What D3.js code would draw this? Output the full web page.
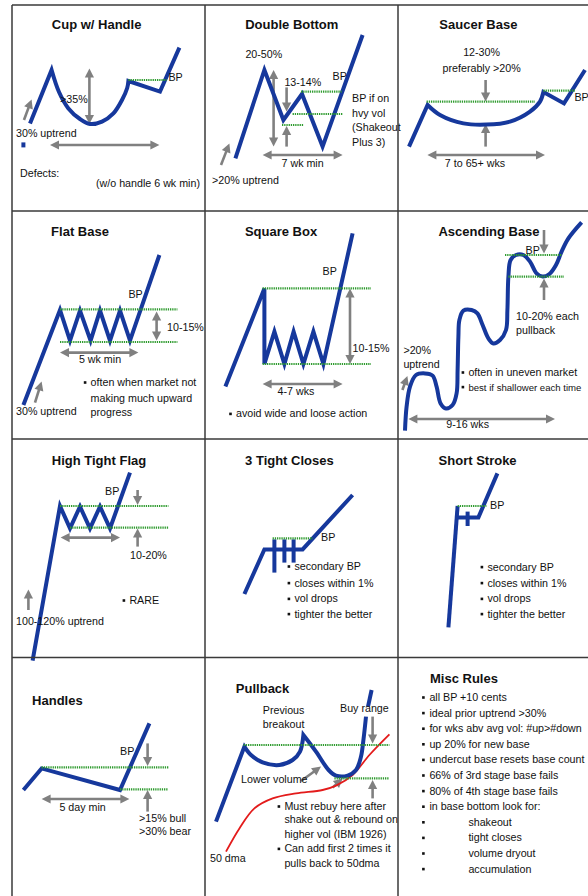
<!DOCTYPE html>
<html>
<head>
<meta charset="utf-8">
<script src="https://cdn.jsdelivr.net/npm/d3@7"></script>
<style>
html, body { margin: 0; padding: 0; background: #fff; }
svg { display: block; font-family: "Liberation Sans", Arial, sans-serif; }
.title { font-size: 13px; font-weight: bold; fill: #111; }
.note { font-size: 10.7px; fill: #111; }
.price { fill: none; stroke: #16389c; stroke-width: 4; }
.dma { fill: none; stroke: #e31b1b; stroke-width: 1.8; }
.bp { stroke: #2f9b2f; stroke-width: 2.2; stroke-dasharray: 1.3 0.9; }
.shaft { stroke: #808080; stroke-width: 2.6; }
.head { fill: #808080; }
.grid { stroke: #3a3a3a; stroke-width: 1.5; }
</style>
</head>
<body>
<svg id="chart" width="588" height="896"></svg>
<script>
// Each panel uses its own units: x = time 0..100, y = price 0..120.
// A point [x, y, 1] is a smooth point, [x, y] a sharp corner.

// --- Cup w/ Handle ---
const cupPrice = [[15,58.3],[25.8,85],[29.5,74,1],[34.2,65.8,1],[40,60.5,1],[45,58,1],[51,59.2,1],[56.7,63.3,1],[61,70,1],[63.6,76,1],[64.2,79.5],[80,74.2],[89.7,96.2]];
const cupTick = [[11.7,48.8],[11.7,46.3]];
const cupBP = [[64.2,83.3,80]];
const cupArrows = [[44.7,85.8,44.7,58,2],[12,60,15.8,70.3,1],[25,47.5,79.7,47.5,2]];
const cupText = [[30,68.7,">35%"],[84.2,79.7,"BP"],[8,51.3,"30% uptrend"],[10,31.3,"Defects:"],[48,26.3,"(w/o handle 6 wk min)"]];

// --- Double Bottom ---
const dblPrice = [[19.7,40.8],[34.2,85],[43.7,60],[53,73],[63.3,46.7],[83.3,102.5]];
const dblBP = [[52.5,72.8,74.2],[48.3,73.3,63],[43,53.7,57.5]];
const dblArrows = [[38.8,85,38.8,46.7,2],[45.3,76.3,45.3,64.2,1],[45.3,46.7,45.3,57,1],[33.3,42.5,73.3,42.5,2],[12.5,37.5,16.7,48.3,1]];
const dblText = [[24.7,90.8,"20-50%"],[44.2,77,"13-14%"],[68.3,80,"BP"],[78,68.8,"BP if on"],[78,61.7,"hvy vol"],[78,54.5,"(Shakeout"],[78,47.2,"Plus 3)"],[53.3,36.7,"7 wk min","m"],[8,27.8,">20% uptrend"]];

// --- Saucer Base ---
const saucerPrice = [[9.5,46.7],[18.8,67.5],[25,62.5,1],[36.7,58.3,1],[48.3,57.7,1],[60,59.2,1],[70,64.2,1],[75,69.2,1],[76.7,74],[87,68.3],[97.5,85]];
const saucerBP = [[18.3,72.5,69.2],[76.7,92.5,74.7]];
const saucerArrows = [[47.8,80,47.8,69.2,1],[47.8,46.7,47.8,58,1],[18.7,42.5,77.5,42.5,2]];
const saucerText = [[45.8,92,"12-30%","m"],[45.8,84.2,"preferably >20%","m"],[92.2,69.7,"BP"],[42.5,36.7,"7 to 65+ wks","m"]];

// --- Flat Base ---
const flatPrice = [[11.7,22.5],[30,70],[35,54.7],[40,69.7],[45.3,54.7],[50,69.7],[55,54.7],[60,69.7],[65,54.7],[79.7,97.5]];
const flatBP = [[30,88.7,70.3],[30,88.7,54]];
const flatArrows = [[78.3,69.2,78.3,54.7,2],[30,48.7,69.2,48.7,2],[17.5,23.7,20.8,34.2,1]];
const flatText = [[64.2,75.8,"BP"],[83.5,59.7,"10-15%"],[50,43.7,"5 wk min","m"],[8,17.5,"30% uptrend"],[45.3,32,"often when market not","b"],[45.3,24.2,"making much upward"],[45.3,17.2,"progress"]];

// --- Square Box ---
const boxPrice = [[14.7,31.7],[34.2,80.8],[34.2,43],[39.2,59.2],[44.2,43],[48.8,59.2],[53.7,43],[58.7,59.2],[63.7,43],[78.3,108.3]];
const boxBP = [[33.3,87.5,80.8],[33.3,87.5,43]];
const boxArrows = [[77,80.8,77,43,2],[33.3,33,73.3,33,2]];
const boxText = [[63.3,87.5,"BP"],[78.3,49.2,"10-15%"],[50,27.5,"4-7 wks","m"],[20,16.3,"avoid wide and loose action","b"]];

// --- Ascending Base ---
const ascPrice = [[7.5,9.7],[8.3,21.7,1],[10,31.7,1],[13,37.5,1],[17.5,38.3,1],[21.3,37.2,1],[23.3,31.7,1],[25.3,23.3,1],[28,20.8,1],[31.3,22.5,1],[33.3,28.3,1],[33.8,40,1],[34.2,56.7,1],[34.7,65,1],[36.7,69.7,1],[40.8,70,1],[43.7,68.3,1],[46.3,62.5,1],[49.2,55.8,1],[51.7,53.3,1],[55,55,1],[58,60,1],[58.7,70,1],[59.2,86.7,1],[60.3,95,1],[63,97.5,1],[66.7,97.5,1],[70,94.2,1],[73.3,88.3,1],[76.3,86.7,1],[79.7,88,1],[83,92.5,1],[85.8,99.2,1],[89.2,105.8,1],[95.8,113.8]];
const ascBP = [[57.5,85.8,97.5],[59.2,87,86.7]];
const ascArrows = [[77,110,77,98.3,1],[77,75,77,85.8,1],[9.2,15.5,82.5,15.5,2],[6.2,30,8.7,37,1]];
const ascText = [[67.8,97.8,"BP"],[63,65,"10-20% each"],[63,58,"pullback"],[6.7,48,">20%"],[6.7,40.8,"uptrend"],[39.2,37,"often in uneven market","b"],[39.2,29.7,"best if shallower each time","b",9.6],[38.8,10.8,"9-16 wks","m"]];

// --- High Tight Flag ---
const htfPrice = [[16.3,9.7],[30,87],[35,75.8],[40,86.7],[45,75.8],[50,86.7],[55,75.8],[65,103.7]];
const htfBP = [[30,84.2,87],[35,84.2,76.2]];
const htfArrows = [[68.8,95,68.8,87.5,1],[68.8,66.7,68.8,75.8,1],[30.3,71.2,60,71.2,2],[14.2,35,14.2,45.3,1]];
const htfText = [[52.5,92.5,"BP"],[65,60.3,"10-20%"],[64.7,38,"RARE","b"],[8,27.5,"100-120% uptrend"]];

// --- 3 Tight Closes ---
const tightPrice = [[24.2,43],[34.2,65.3],[53.3,65.3],[78.3,92.5]];
const tightBars = [[[39.2,70.3],[39.2,53.7]],[[44.2,70.3],[44.2,58.7]],[[48.8,70.3],[48.8,58.7]]];
const tightBP = [[38.3,58.3,70.8]];
const tightText = [[62.5,69.5,"BP"],[49.2,55,"secondary BP","b"],[49.2,46.7,"closes within 1%","b"],[49.2,38.8,"vol drops","b"],[49.2,31.2,"tighter the better","b"]];

// --- Short Stroke ---
const shortRise = [[29.2,26.3],[33.8,87]];
const shortPrice = [[33.8,81.3],[44.2,81.3],[53.7,103.3]];
const shortTick = [[38.8,84.2],[38.8,77]];
const shortBP = [[33.8,48.3,87]];
const shortText = [[50,85.5,"BP"],[48.7,54.7,"secondary BP","b"],[48.7,46.7,"closes within 1%","b"],[48.7,38.8,"vol drops","b"],[48.7,31.2,"tighter the better","b"]];

// --- Handles ---
const handlePrice = [[11.7,52.5],[20.8,63.3],[60,52.5],[74.7,85.8]];
const handleBP = [[20.8,84.2,63.8],[60,84.2,52.8]];
const handleArrows = [[73.8,75.8,73.8,64.5,1],[73.8,41.7,73.8,52.5,1],[20.8,48,64.7,48,2]];
const handleText = [[60,70,"BP"],[41.3,42,"5 day min","m"],[69.5,36.7,">15% bull"],[69.5,30,">30% bear"]];

// --- Pullback ---
const pullPrice = [[10,36.7],[24.2,74.2],[27.5,70,1],[33.3,66.3,1],[41.7,65,1],[48.3,67.5,1],[52,71.7,1],[53.7,80],[60,71.7,1],[66.3,62.5,1],[70,59.7,1],[75.8,59.7,1],[80,62.5,1],[82.5,69.2,1],[83.8,78.3,1],[85,89.2]];
const pullTip = [[86,94.2],[87.8,102.5]];
const pullDma = [[15,21.7],[21.7,33.3,1],[29.2,43.3,1],[38.3,48.3,1],[50,50.8,1],[63.3,52.5,1],[70,54.7,1],[78.3,60,1],[86.7,70,1],[96.7,80.3]];
const pullBP = [[23.8,96.7,75],[69.2,96.7,58.3]];
const pullArrows = [[88.3,89.2,88.3,75.8,1],[88.3,48.3,88.3,57.5,1],[52.5,57,62.5,64.2,1],[68.3,53.7,73.3,58.3,1]];
const pullText = [[43.8,90.3,"Previous","m"],[43.8,83.3,"breakout","m"],[84.2,91.7,"Buy range","m"],[22.5,55.8,"Lower volume"],[44.2,42.5,"Must rebuy here after","b"],[44.2,35.8,"shake out & rebound on"],[44.2,28.7,"higher vol (IBM 1926)"],[44.2,21.3,"Can add first 2 times it","b"],[44.2,14.2,"pulls back to 50dma"],[7,16.7,"50 dma"]];

// --- Misc Rules ---
const miscRules = ["all BP +10 cents","ideal prior uptrend >30%","for wks abv avg vol: #up>#down","up 20% for new base","undercut base resets base count","66% of 3rd stage base fails","80% of 4th stage base fails","in base bottom look for:"];
const lookFor = ["shakeout","tight closes","volume dryout","accumulation"];

// layout
const COLS = [12, 205, 398];
const ROWS = [5, 211, 439, 657.5];
const W = 588, H = 896;

const panels = [
  { title: "Cup w/ Handle", at: [0,0], titleAt: [48.3,105.3], lines: [cupPrice, cupTick], bp: cupBP, arrows: cupArrows, text: cupText },
  { title: "Double Bottom", at: [196,0], titleAt: [47.9,105.3], lines: [dblPrice], bp: dblBP, arrows: dblArrows, text: dblText },
  { title: "Saucer Base", at: [390,0], titleAt: [44.2,105.3], lines: [saucerPrice], bp: saucerBP, arrows: saucerArrows, text: saucerText },
  { title: "Flat Base", at: [0,210], titleAt: [40,107], lines: [flatPrice], bp: flatBP, arrows: flatArrows, text: flatText },
  { title: "Square Box", at: [196,210], titleAt: [42.5,107], lines: [boxPrice], bp: boxBP, arrows: boxArrows, text: boxText },
  { title: "Ascending Base", at: [390,210], titleAt: [49.5,107], lines: [ascPrice], bp: ascBP, arrows: ascArrows, text: ascText },
  { title: "High Tight Flag", at: [0,440], titleAt: [49.5,107.5], lines: [htfPrice], bp: htfBP, arrows: htfArrows, text: htfText },
  { title: "3 Tight Closes", at: [196,440], titleAt: [46.7,107.5], lines: [tightPrice].concat(tightBars), bp: tightBP, arrows: [], text: tightText },
  { title: "Short Stroke", at: [390,440], titleAt: [43.8,107.5], lines: [shortRise, shortPrice, shortTick], bp: shortBP, arrows: [], text: shortText },
  { title: "Handles", at: [0,655], titleAt: [28.7,95], lines: [handlePrice], bp: handleBP, arrows: handleArrows, text: handleText },
  { title: "Pullback", at: [196,655], titleAt: [33.3,100.8], lines: [pullPrice, pullTip], dma: pullDma, bp: pullBP, arrows: pullArrows, text: pullText },
  { title: "Misc Rules", at: [390,655], titleAt: [20,105.8], anchor: "start", lines: [], bp: [], arrows: [], text: [] }
];

// misc rules as text rows
miscRules.forEach((r, i) => panels[11].text.push([19.7, 97 - i * 7.8, r, 16.7]));
lookFor.forEach((r, i) => panels[11].text.push([39.2, 97 - (i + 8) * 7.8, r, 16.7]));

const smooth = d3.line().curve(d3.curveCatmullRom.alpha(0.5));

// straight between corners, Catmull-Rom through smooth points
function pathD(pts, x, y) {
  const P = pts.map(p => [x(p[0]), y(p[1]), p[2]]);
  let d = `M${P[0][0]},${P[0][1]}`;
  let run = [P[0]];
  for (let i = 1; i < P.length; i++) {
    run.push(P[i]);
    if (!P[i][2] || i === P.length - 1) {
      if (run.length === 2) d += `L${P[i][0]},${P[i][1]}`;
      else d += smooth(run.map(q => [q[0], q[1]])).replace(/^M[^A-Za-z]*/, "");
      run = [P[i]];
    }
  }
  return d;
}

function head(g, tx, ty, a) {
  const L = 9, hw = 4.6;
  const bx = tx - L * Math.cos(a), by = ty - L * Math.sin(a);
  const px = -Math.sin(a) * hw, py = Math.cos(a) * hw;
  g.append("path").attr("class", "head")
    .attr("d", `M${tx},${ty}L${bx + px},${by + py}L${bx - px},${by - py}Z`);
  return [tx - (L - 1) * Math.cos(a), ty - (L - 1) * Math.sin(a)];
}

function drawArrow(g, x1, y1, x2, y2, both) {
  const a = Math.atan2(y2 - y1, x2 - x1);
  const e = head(g, x2, y2, a);
  const s = both ? head(g, x1, y1, a + Math.PI) : [x1, y1];
  g.insert("line", ":first-child").attr("class", "shaft")
    .attr("x1", s[0]).attr("y1", s[1]).attr("x2", e[0]).attr("y2", e[1]);
}

const svg = d3.select("#chart");
svg.append("rect").attr("width", W).attr("height", H).attr("fill", "#fff");

panels.forEach(p => {
  const [ox, oy] = p.at;
  const x = d3.scaleLinear().domain([0, 100]).range([ox, ox + 200]);
  const y = d3.scaleLinear().domain([0, 120]).range([oy + 240, oy]);
  const g = svg.append("g");

  const ag = g.append("g");
  p.arrows.forEach(a => drawArrow(ag, x(a[0]), y(a[1]), x(a[2]), y(a[3]), a[4] === 2));

  if (p.dma) g.append("path").attr("class", "dma").attr("d", pathD(p.dma, x, y));
  p.lines.forEach(l => g.append("path").attr("class", "price").attr("d", pathD(l, x, y)));

  g.selectAll(null).data(p.bp).enter().append("line").attr("class", "bp")
    .attr("x1", d => x(d[0])).attr("x2", d => x(d[1]))
    .attr("y1", d => y(d[2])).attr("y2", d => y(d[2]));

  g.append("text").attr("class", "title")
    .attr("x", x(p.titleAt[0])).attr("y", y(p.titleAt[1]))
    .attr("text-anchor", p.anchor || "middle").text(p.title);

  p.text.forEach(t => {
    const tx = g.append("text").attr("class", "note")
      .attr("x", x(t[0])).attr("y", y(t[1]))
      .attr("text-anchor", t[3] === "m" ? "middle" : "start").text(t[2]);
    if (t[4]) tx.style("font-size", t[4] + "px");
    if (t[3] === "b" || typeof t[3] === "number") {
      const bx = t[3] === "b" ? x(t[0]) - 5.5 : x(t[3]);
      g.append("rect").attr("fill", "#111")
        .attr("x", bx - 1.3).attr("y", y(t[1]) - 4.8).attr("width", 2.6).attr("height", 2.6);
    }
  });
});

// cell borders
const grid = svg.append("g");
COLS.forEach(c => grid.append("line").attr("class", "grid")
  .attr("x1", c).attr("x2", c).attr("y1", ROWS[0]).attr("y2", H));
ROWS.forEach(r => grid.append("line").attr("class", "grid")
  .attr("x1", COLS[0]).attr("x2", W).attr("y1", r).attr("y2", r));
</script>
</body>
</html>
